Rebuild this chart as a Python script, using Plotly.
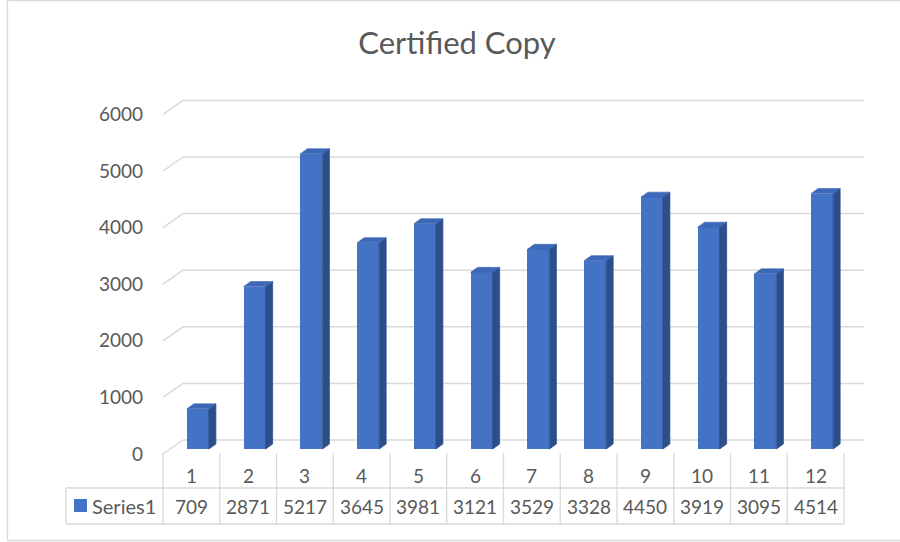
import plotly.graph_objects as go

# ---- data ----
categories = ["1", "2", "3", "4", "5", "6", "7", "8", "9", "10", "11", "12"]
values = [709, 2871, 5217, 3645, 3981, 3121, 3529, 3328, 4450, 3919, 3095, 4514]
series_name = "Series1"
y_ticks = [0, 1000, 2000, 3000, 4000, 5000, 6000]
title = "Certified Copy"

# ---- styling / calibration ----
W, H = 900, 542
FONT = "Lato"
TXT = "#595959"
GRID = "#d9d9d9"
FRONT = "#4472C4"
SIDE = "#2C4F8C"
TOP = "#3D68B7"

COL_W = 56.75          # px per category
COL0 = 163.0           # px left edge of first category column
PX_PER_UNIT = 0.0566   # px per value unit
BASE_PX = 449.0        # px of value 0 on bar front plane


def px_to_x(p):
    return 0.5 + (p - COL0) / COL_W


def py_to_paper(p):
    return (H - p) / H


x_range = [px_to_x(0), px_to_x(W)]
y_range = [(BASE_PX - H) / PX_PER_UNIT, BASE_PX / PX_PER_UNIT]

# depth offsets (in data units)
bar_dx = 7 / COL_W
bar_dy = 5 / PX_PER_UNIT
front_dy = -5 / PX_PER_UNIT           # front plane (axis labels / floor front edge)
back_dx = 20 / COL_W
back_dy = 9 / PX_PER_UNIT             # back wall
bar_off = 6.5 / COL_W
bar_w = 22 / COL_W

xs = [i + 1 for i in range(len(values))]
bar_x = [x + bar_off for x in xs]

fig = go.Figure()

# front faces
fig.add_trace(go.Bar(x=bar_x, y=values, width=bar_w, marker=dict(color=FRONT, line=dict(width=0)),
                     name=series_name, showlegend=False, hoverinfo="skip"))

# side faces & top faces
sx, sy, tx, ty = [], [], [], []
for x, v in zip(bar_x, values):
    xl, xr = x - bar_w / 2, x + bar_w / 2
    sx += [xr, xr + bar_dx, xr + bar_dx, xr, xr, None]
    sy += [0, bar_dy, v + bar_dy, v, 0, None]
    tx += [xl, xr, xr + bar_dx, xl + bar_dx, xl, None]
    ty += [v, v, v + bar_dy, v + bar_dy, v, None]
fig.add_trace(go.Scatter(x=sx, y=sy, mode="lines", fill="toself", fillcolor=SIDE,
                         line=dict(width=0.8, color=SIDE), showlegend=False, hoverinfo="skip"))
fig.add_trace(go.Scatter(x=tx, y=ty, mode="lines", fill="toself", fillcolor=TOP,
                         line=dict(width=0.6, color=TOP), showlegend=False, hoverinfo="skip"))

shapes = []
# gridlines on back wall and side wall
x_left_front = 0.5
x_left_back = 0.5 + back_dx
x_right_back = len(values) + 0.5 + back_dx
for v in y_ticks:
    shapes.append(dict(type="line", xref="x", yref="y", x0=x_left_back, x1=x_right_back,
                       y0=v + back_dy, y1=v + back_dy, line=dict(color=GRID, width=1.5), layer="below"))
    shapes.append(dict(type="line", xref="x", yref="y", x0=x_left_front, x1=x_left_back,
                       y0=v + front_dy, y1=v + back_dy, line=dict(color=GRID, width=1.5), layer="below"))

# data table
row_top, row_mid, row_bot = py_to_paper(453), py_to_paper(488), py_to_paper(524)
tbl_left = px_to_x(66)
for k in range(len(values) + 1):
    shapes.append(dict(type="line", xref="x", yref="paper", x0=0.5 + k, x1=0.5 + k,
                       y0=row_top, y1=row_bot, line=dict(color=GRID, width=1.3)))
for yy in (row_mid, row_bot):
    shapes.append(dict(type="line", xref="x", yref="paper", x0=tbl_left, x1=len(values) + 0.5,
                       y0=yy, y1=yy, line=dict(color=GRID, width=1.3)))
shapes.append(dict(type="line", xref="x", yref="paper", x0=tbl_left, x1=tbl_left,
                   y0=row_mid, y1=row_bot, line=dict(color=GRID, width=1.3)))
# legend key
shapes.append(dict(type="rect", xref="paper", yref="paper", x0=74 / W, x1=87 / W,
                   y0=py_to_paper(512), y1=py_to_paper(499), fillcolor=FRONT, line=dict(width=0)))
# chart border
shapes.append(dict(type="rect", xref="paper", yref="paper", x0=7.5 / W, x1=1.02,
                   y0=py_to_paper(540.5), y1=py_to_paper(0.5), line=dict(color=GRID, width=1.3)))

annotations = []
cat_y = py_to_paper(475)
val_y = py_to_paper(506)
for x, c, v in zip(xs, categories, values):
    annotations.append(dict(x=x, y=cat_y, xref="x", yref="paper", text=c, showarrow=False,
                            font=dict(family=FONT, size=19, color=TXT), xanchor="center", yanchor="middle"))
    annotations.append(dict(x=x, y=val_y, xref="x", yref="paper", text=str(v), showarrow=False,
                            font=dict(family=FONT, size=19, color=TXT), xanchor="center", yanchor="middle"))
annotations.append(dict(x=90 / W, y=val_y, xref="paper", yref="paper", text=series_name, showarrow=False,
                        font=dict(family=FONT, size=20, color=TXT), xanchor="left", yanchor="middle"))

fig.update_layout(
    width=W, height=H,
    margin=dict(l=0, r=0, t=0, b=0),
    paper_bgcolor="white", plot_bgcolor="white",
    title=dict(text=title, x=457 / W, y=py_to_paper(43), xanchor="center", yanchor="middle",
               font=dict(family=FONT, size=31, color=TXT)),
    xaxis=dict(range=x_range, domain=[0, 1], visible=False, fixedrange=True),
    yaxis=dict(range=y_range, domain=[0, 1], visible=False, fixedrange=True),
    yaxis2=dict(range=[y_range[0] - front_dy, y_range[1] - front_dy], overlaying="y", anchor="free",
                position=143 / W, side="left", tickvals=y_ticks, showgrid=False, zeroline=False,
                showline=False, ticks="", tickfont=dict(family=FONT, size=19, color=TXT), fixedrange=True),
    shapes=shapes,
    annotations=annotations,
    bargap=0,
    showlegend=False,
)
# dummy trace so yaxis2 renders its tick labels
fig.add_trace(go.Scatter(x=[None], y=[None], yaxis="y2", showlegend=False, hoverinfo="skip"))

fig.write_html(
    "out.html",
    config={"displayModeBar": False},
    post_script="document.body.style.margin='0';document.body.style.overflow='hidden';",
)
